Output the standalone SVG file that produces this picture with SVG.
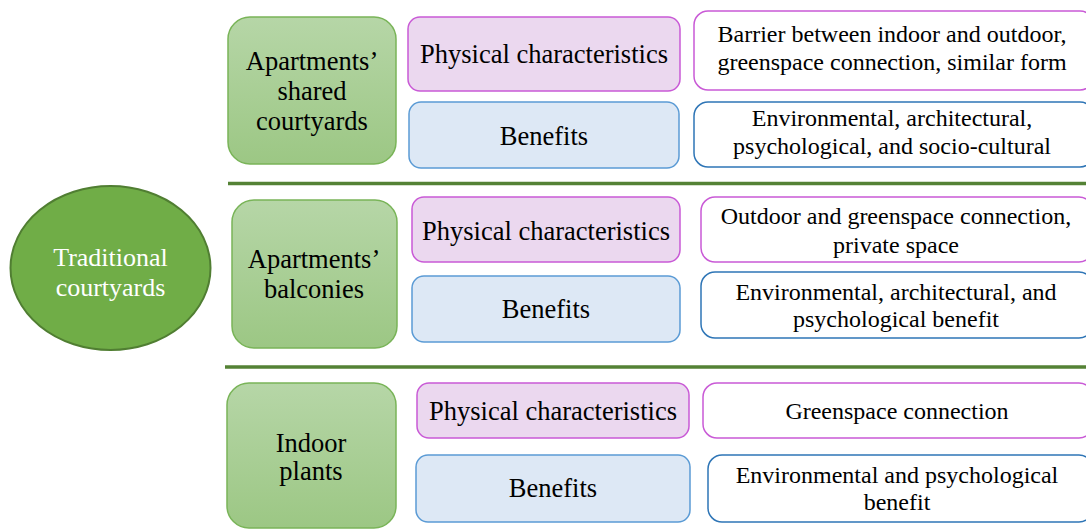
<svg xmlns="http://www.w3.org/2000/svg" width="1086" height="529" viewBox="0 0 1086 529" font-family="Liberation Serif">
  <defs>
    <linearGradient id="greenFill" x1="0" y1="0" x2="0" y2="1">
      <stop offset="0" stop-color="#B6D6A7"/>
      <stop offset="1" stop-color="#9CC784"/>
    </linearGradient>
  </defs>
  <g id="traditional-courtyards" text-anchor="middle">
    <ellipse cx="110.5" cy="268" rx="100" ry="82" fill="#70AD47" stroke="#507E32" stroke-width="2"/>
    <text x="110.5" y="266" font-family="Liberation Serif" font-size="26" fill="#FFFFFF">Traditional</text>
    <text x="110.5" y="296" font-family="Liberation Serif" font-size="26" fill="#FFFFFF">courtyards</text>
  </g>
  <g id="connectors" stroke="#548235" stroke-width="3.5">
    <line x1="228" y1="183.5" x2="1086" y2="183.5"/>
    <line x1="225" y1="367" x2="1086" y2="367"/>
  </g>
  <g fill="url(#greenFill)" stroke="#79B458" stroke-width="1.5">
    <g id="shared-courtyards">
      <rect x="228" y="17" width="168" height="147" rx="22"/>
      <g fill="#000" stroke="none" font-size="26.5" text-anchor="middle">
        <text x="312" y="70" font-family="Liberation Serif">Apartments’</text>
        <text x="312" y="100" font-family="Liberation Serif">shared</text>
        <text x="312" y="130" font-family="Liberation Serif">courtyards</text>
      </g>
    </g>
    <g id="balconies">
      <rect x="232" y="200" width="165" height="148" rx="22"/>
      <g fill="#000" stroke="none" font-size="26.5" text-anchor="middle">
        <text x="314" y="268" font-family="Liberation Serif">Apartments’</text>
        <text x="314" y="298" font-family="Liberation Serif">balconies</text>
      </g>
    </g>
    <g id="indoor-plants">
      <rect x="227" y="383" width="169" height="145" rx="22"/>
      <g fill="#000" stroke="none" font-size="26.5" text-anchor="middle">
        <text x="311" y="452" font-family="Liberation Serif">Indoor</text>
        <text x="311" y="480" font-family="Liberation Serif">plants</text>
      </g>
    </g>
  </g>
  <g fill="#EBD8EF" stroke="#C95AD6" stroke-width="1.5">
    <g id="shared-physical">
      <rect x="408" y="17" width="272" height="74" rx="12"/>
      <text x="544" y="63" font-family="Liberation Serif" fill="#000" stroke="none" font-size="26.5" text-anchor="middle">Physical characteristics</text>
    </g>
    <g id="balconies-physical">
      <rect x="412" y="197" width="268" height="65" rx="12"/>
      <text x="546" y="240" font-family="Liberation Serif" fill="#000" stroke="none" font-size="26.5" text-anchor="middle">Physical characteristics</text>
    </g>
    <g id="plants-physical">
      <rect x="417" y="383" width="272" height="55" rx="12"/>
      <text x="553" y="420" font-family="Liberation Serif" fill="#000" stroke="none" font-size="26.5" text-anchor="middle">Physical characteristics</text>
    </g>
  </g>
  <g fill="#DDE8F5" stroke="#5B9BD5" stroke-width="1.5">
    <g id="shared-benefits">
      <rect x="409" y="102" width="270" height="66" rx="12"/>
      <text x="544" y="145" font-family="Liberation Serif" fill="#000" stroke="none" font-size="26.5" text-anchor="middle">Benefits</text>
    </g>
    <g id="balconies-benefits">
      <rect x="412" y="276" width="268" height="66" rx="12"/>
      <text x="546" y="318" font-family="Liberation Serif" fill="#000" stroke="none" font-size="26.5" text-anchor="middle">Benefits</text>
    </g>
    <g id="plants-benefits">
      <rect x="416" y="455" width="274" height="67" rx="12"/>
      <text x="553" y="497" font-family="Liberation Serif" fill="#000" stroke="none" font-size="26.5" text-anchor="middle">Benefits</text>
    </g>
  </g>
  <g fill="#FFFFFF" stroke="#C95AD6" stroke-width="1.5">
    <g id="shared-physical-detail">
      <rect x="694" y="11" width="400" height="79" rx="14"/>
      <g fill="#000" stroke="none" font-size="24" text-anchor="middle">
        <text x="892" y="42" font-family="Liberation Serif">Barrier between indoor and outdoor,</text>
        <text x="892" y="70" font-family="Liberation Serif">greenspace connection, similar form</text>
      </g>
    </g>
    <g id="balconies-physical-detail">
      <rect x="701" y="197" width="392" height="65" rx="14"/>
      <g fill="#000" stroke="none" font-size="24" text-anchor="middle">
        <text x="896" y="224" font-family="Liberation Serif">Outdoor and greenspace connection,</text>
        <text x="896" y="253" font-family="Liberation Serif">private space</text>
      </g>
    </g>
    <g id="plants-physical-detail">
      <rect x="703" y="383" width="390" height="55" rx="14"/>
      <text x="897" y="419" font-family="Liberation Serif" fill="#000" stroke="none" font-size="24" text-anchor="middle">Greenspace connection</text>
    </g>
  </g>
  <g fill="#FFFFFF" stroke="#2E75B6" stroke-width="1.5">
    <g id="shared-benefits-detail">
      <rect x="694" y="102" width="400" height="65" rx="14"/>
      <g fill="#000" stroke="none" font-size="24" text-anchor="middle">
        <text x="892" y="126" font-family="Liberation Serif">Environmental, architectural,</text>
        <text x="892" y="154" font-family="Liberation Serif">psychological, and socio-cultural</text>
      </g>
    </g>
    <g id="balconies-benefits-detail">
      <rect x="701" y="272" width="392" height="66" rx="14"/>
      <g fill="#000" stroke="none" font-size="24" text-anchor="middle">
        <text x="896" y="300" font-family="Liberation Serif">Environmental, architectural, and</text>
        <text x="896" y="327" font-family="Liberation Serif">psychological benefit</text>
      </g>
    </g>
    <g id="plants-benefits-detail">
      <rect x="708" y="455" width="385" height="67" rx="14"/>
      <g fill="#000" stroke="none" font-size="24" text-anchor="middle">
        <text x="897" y="483" font-family="Liberation Serif">Environmental and psychological</text>
        <text x="897" y="510" font-family="Liberation Serif">benefit</text>
      </g>
    </g>
  </g>
</svg>
